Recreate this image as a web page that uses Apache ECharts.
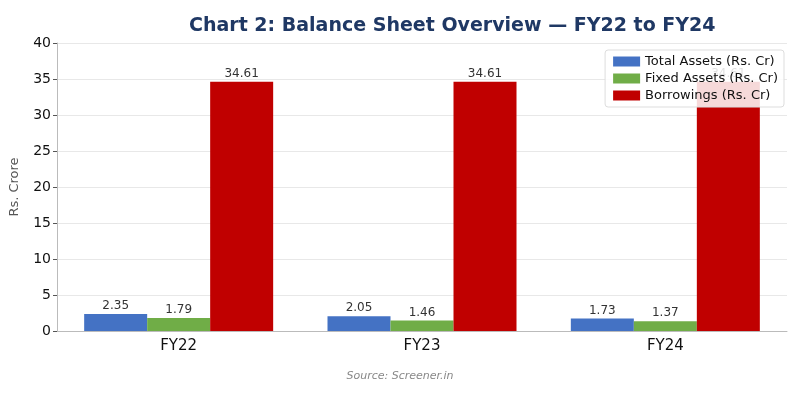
<!DOCTYPE html>
<html>
<head>
<meta charset="utf-8">
<title>Balance Sheet Overview</title>
<script src="https://cdn.jsdelivr.net/npm/echarts@6/dist/echarts.min.js"></script>
<style>
  html, body { margin: 0; padding: 0; background: #fff; }
  #main { width: 800px; height: 400px; }
</style>
</head>
<body>
<div id="main"></div>
<script>
    // data
    var years = ['FY22', 'FY23', 'FY24'];
    var totalAssets = [2.35, 2.05, 1.73];
    var fixedAssets = [1.79, 1.46, 1.37];
    var borrowings = [34.61, 34.61, 34.61];
    var yTicks = [0, 5, 10, 15, 20, 25, 30, 35, 40];

    var chart = echarts.init(document.getElementById('main'));

    function barSeries(name, data, color) {
        return {
            name: name,
            type: 'bar',
            data: data,
            barWidth: 63,
            barGap: '0%',
            itemStyle: { color: color },
            label: {
                show: true,
                position: 'top',
                distance: 2,
                color: '#333',
                fontSize: 12,
                fontFamily: 'DejaVu Sans',
                formatter: function (p) { return p.value.toFixed(2); }
            },
            z: 2
        };
    }

    var option = {
        backgroundColor: '#fff',
        animation: false,
        textStyle: { fontFamily: 'DejaVu Sans' },
        title: {
            text: 'Chart 2: Balance Sheet Overview \u2014 FY22 to FY24',
            left: 184,
            top: 12,
            textStyle: { color: '#1F3864', fontSize: 19, fontWeight: 'bold', fontFamily: 'DejaVu Sans' }
        },
        legend: {
            orient: 'vertical',
            right: 16,
            top: 50,
            icon: 'rect',
            itemWidth: 27,
            itemHeight: 10,
            itemGap: 4,
            padding: [5, 6, 5, 8],
            backgroundColor: 'rgba(255,255,255,0.85)',
            borderColor: '#ddd',
            borderWidth: 1,
            borderRadius: 3,
            textStyle: { fontSize: 13, color: '#111', fontFamily: 'DejaVu Sans' },
            z: 10
        },
        grid: { left: 56, right: 13, top: 43, bottom: 69 },
        xAxis: {
            type: 'category',
            data: years,
            axisLine: { lineStyle: { color: '#bbb' } },
            axisTick: { alignWithLabel: true, length: 4, lineStyle: { color: '#555' } },
            axisLabel: { fontSize: 15, color: '#111', margin: 8 }
        },
        yAxis: {
            type: 'value',
            min: yTicks[0],
            max: yTicks[yTicks.length - 1],
            interval: 5,
            name: 'Rs. Crore',
            nameLocation: 'middle',
            nameGap: 36,
            nameTextStyle: { color: '#555', fontSize: 13 },
            axisLine: { show: true, lineStyle: { color: '#bbb' } },
            axisTick: { show: true, length: 4, lineStyle: { color: '#555' } },
            axisLabel: { fontSize: 14, color: '#111', margin: 6 },
            splitLine: { lineStyle: { color: '#e8e8e8' } }
        },
        series: [
            barSeries('Total Assets (Rs. Cr)', totalAssets, '#4472C4'),
            barSeries('Fixed Assets (Rs. Cr)', fixedAssets, '#70AD47'),
            barSeries('Borrowings (Rs. Cr)', borrowings, '#C00000')
        ],
        graphic: [{
            type: 'text',
            left: 'center',
            top: 371,
            style: {
                text: 'Source: Screener.in',
                fill: '#888',
                font: 'italic 11px DejaVu Sans'
            }
        }]
    };

    chart.setOption(option);
    window.onresize = chart.resize;
</script>
</body>
</html>
